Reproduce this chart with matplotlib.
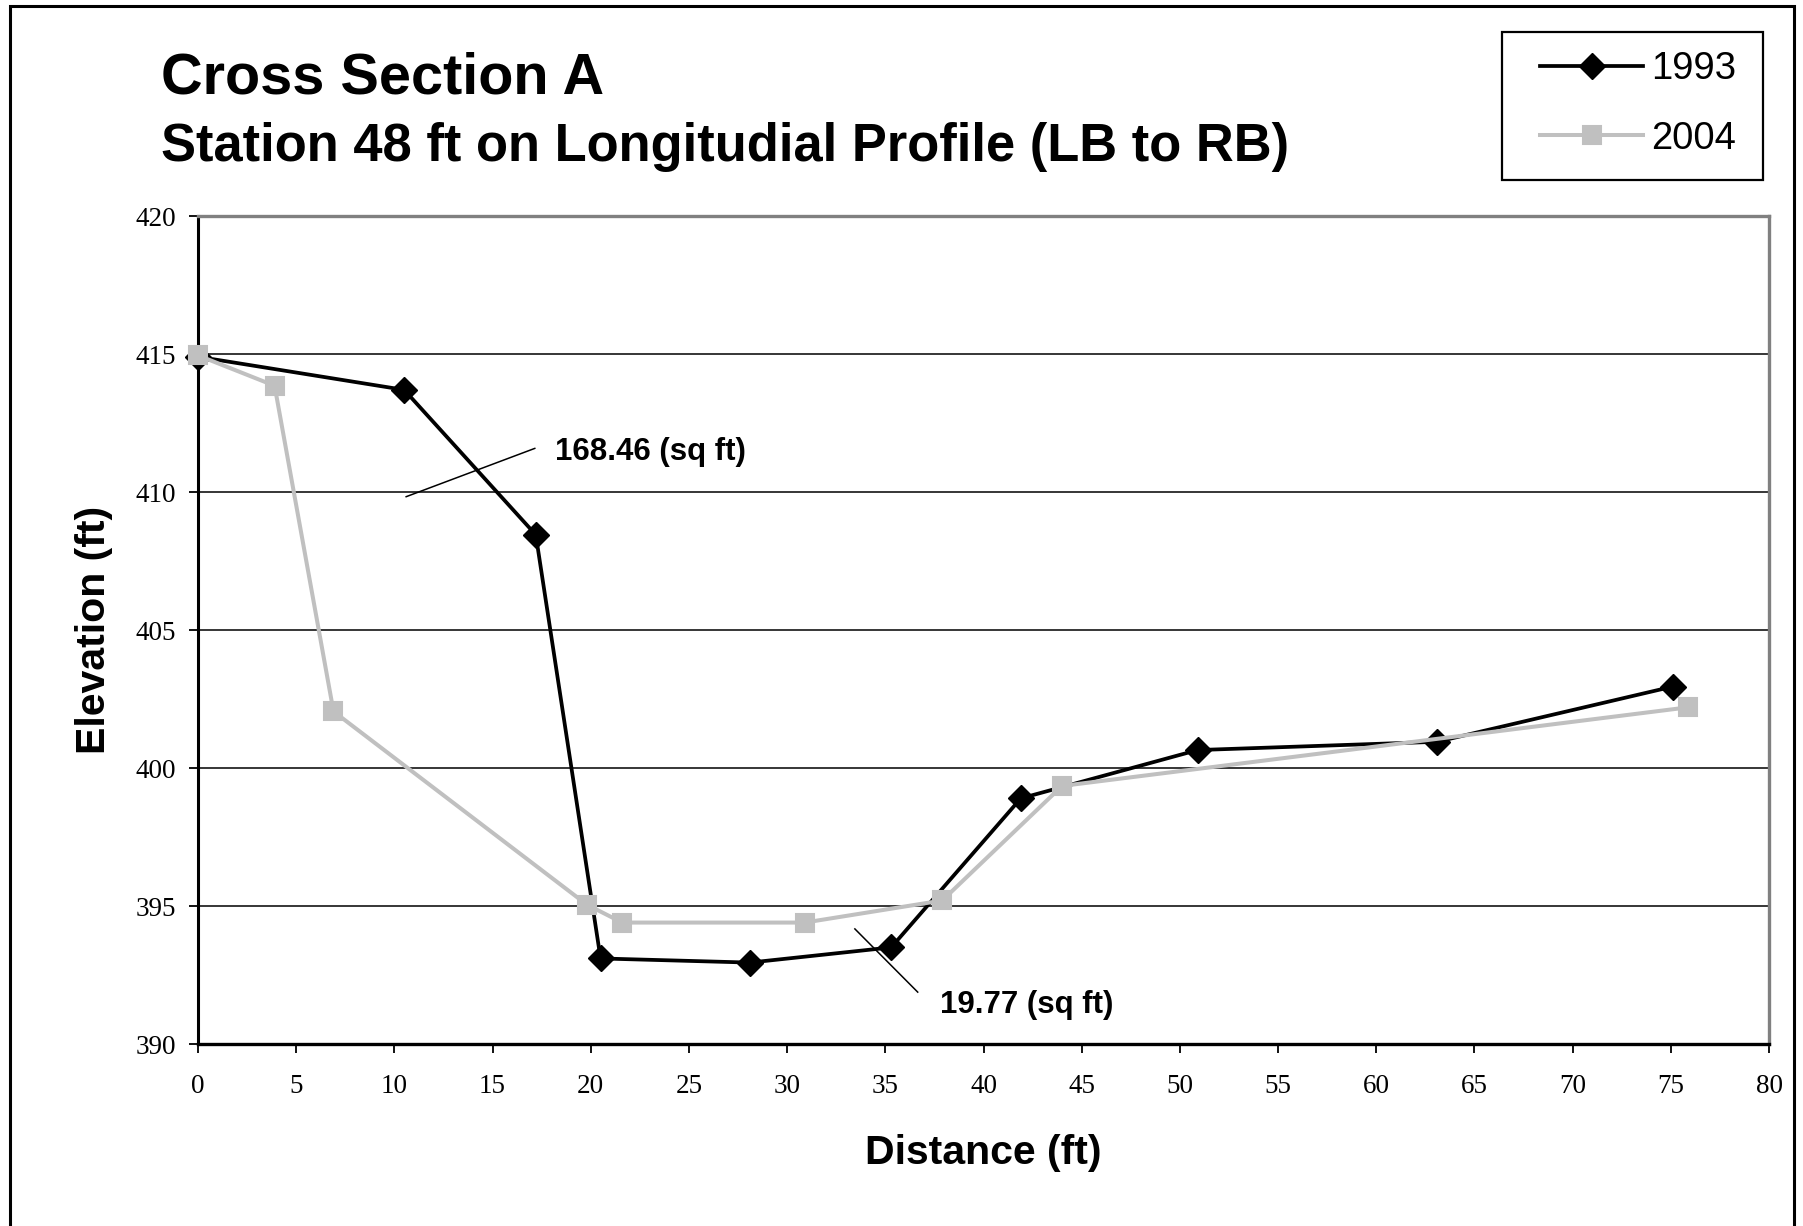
from matplotlib import pyplot as plt
from matplotlib.patches import Rectangle

# survey points, distance (ft) and elevation (ft)
dist_1993 = [0, 10.5, 17.2, 20.5, 28.1, 35.3, 41.9, 50.9, 63.1, 75.1]
elev_1993 = [414.9, 413.7, 408.45, 393.1, 392.95, 393.5, 398.9, 400.65, 400.95, 402.95]

dist_2004 = [0, 3.9, 6.9, 19.8, 21.6, 30.9, 37.9, 44.0, 75.9]
elev_2004 = [414.95, 413.85, 402.05, 395.05, 394.4, 394.4, 395.2, 399.35, 402.2]

x_ticks = list(range(0, 81, 5))
y_ticks = list(range(390, 421, 5))

# area labels and their leader lines
area_labels = ["168.46 (sq ft)", "19.77 (sq ft)"]
label_pos = [(18.2, 411.45), (37.8, 391.4)]
leader_x = [(10.6, 17.15), (33.45, 36.65)]
leader_y = [(409.83, 411.58), (394.17, 391.88)]


def main():
    fig = plt.figure(figsize=(18.03, 12.26), dpi=100)
    ax = fig.add_axes([198 / 1803, 1 - 1044 / 1226, (1769 - 198) / 1803, (1044 - 216) / 1226])

    sans = 'Liberation Sans'
    serif = 'Liberation Serif'

    l1, = ax.plot(dist_1993, elev_1993, color='black', lw=2.7, marker='D', ms=13.5,
                  mfc='black', mec='black', mew=1, zorder=3, clip_on=False)
    l2, = ax.plot(dist_2004, elev_2004, color='#c0c0c0', lw=2.9, marker='s', ms=12.5,
                  mfc='#c0c0c0', mec='#c0c0c0', mew=1.5, zorder=4, clip_on=False)

    ax.set_xlim(0, 80)
    ax.set_ylim(390, 420)
    ax.set_xticks(x_ticks)
    ax.set_yticks(y_ticks)
    ax.set_xticklabels([str(v) for v in x_ticks], fontfamily=serif, fontsize=19.5)
    ax.set_yticklabels([str(v) for v in y_ticks], fontfamily=serif, fontsize=19.5)
    ax.tick_params(direction='out', length=6.5, width=1.3, color='black')
    ax.tick_params(axis='x', pad=15)
    ax.tick_params(axis='y', pad=9)
    ax.yaxis.grid(True, color='black', lw=1.1)
    ax.set_axisbelow(True)

    ax.spines['left'].set_color('black')
    ax.spines['left'].set_linewidth(2.2)
    ax.spines['bottom'].set_color('black')
    ax.spines['bottom'].set_linewidth(2.4)
    ax.spines['top'].set_color('#808080')
    ax.spines['top'].set_linewidth(2.4)
    ax.spines['right'].set_color('#808080')
    ax.spines['right'].set_linewidth(2.4)

    for txt, (tx, ty), lx, ly in zip(area_labels, label_pos, leader_x, leader_y):
        ax.plot(lx, ly, color='black', lw=1.1, zorder=5)
        ax.text(tx, ty, txt, fontfamily=sans, fontweight='bold', fontsize=22.5,
                ha='left', va='center', zorder=6)

    fig.text(161 / 1803, 1 - 94 / 1226, "Cross Section A", fontfamily=sans,
             fontweight='bold', fontsize=41.5, va='baseline', ha='left')
    fig.text(161 / 1803, 1 - 161 / 1226, "Station 48 ft on Longitudial Profile (LB to RB)",
             fontfamily=sans, fontweight='bold', fontsize=37.8, va='baseline', ha='left')

    fig.text(983 / 1803, 1 - 1153 / 1226, "Distance (ft)", fontfamily=sans,
             fontweight='bold', fontsize=29.5, ha='center', va='center')
    fig.text(94 / 1803, 1 - 630 / 1226, "Elevation (ft)", fontfamily=sans,
             fontweight='bold', fontsize=29.5, ha='center', va='center', rotation=90)

    # legend box drawn by hand, legend itself without frame
    fig.patches.append(Rectangle((1502 / 1803, 1 - 180 / 1226), 261 / 1803, 148 / 1226,
                                 transform=fig.transFigure, fill=False, ec='black', lw=1.6))
    fig.legend([l1, l2], ["1993", "2004"], loc='center left',
               bbox_to_anchor=(1521 / 1803, 1 - 104 / 1226), frameon=False,
               prop={'family': sans, 'size': 27.5}, handlelength=2.7,
               handletextpad=0.2, labelspacing=0.88, borderpad=0)

    # outer frame of the whole chart
    fig.patches.append(Rectangle((10 / 1803, -0.02), 1784 / 1803, 1.02 - 6 / 1226,
                                 transform=fig.transFigure, fill=False, ec='black', lw=2.2))

    plt.savefig('out.png', dpi=100)


if __name__ == "__main__":
    main()
